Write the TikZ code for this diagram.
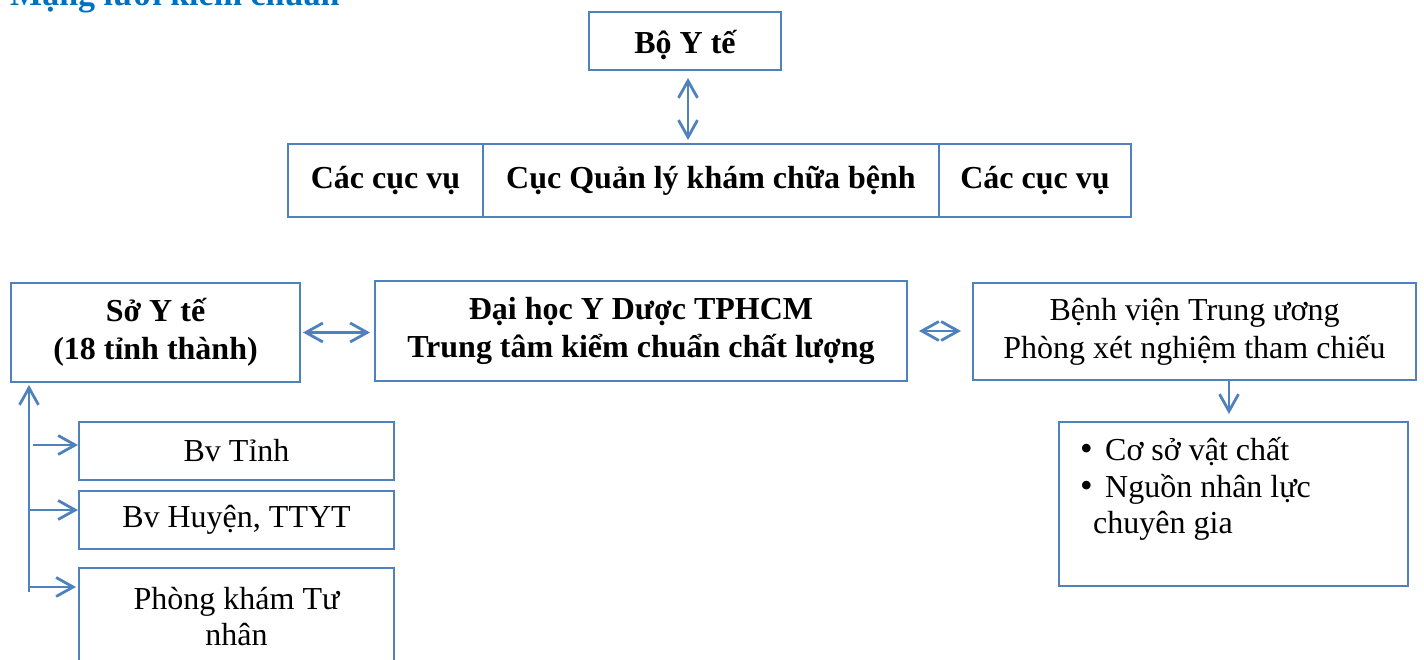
\documentclass[tikz,border=0pt]{standalone}
\usepackage{fontspec}
\setmainfont{Liberation Serif}
\usetikzlibrary{arrows.meta}
\definecolor{lineblue}{RGB}{79,129,189}
\definecolor{titleblue}{RGB}{0,112,192}
\tikzset{
  box/.style={draw=lineblue, line width=2.8pt, rectangle, inner sep=0pt, outer sep=0pt, align=center, font=\fontsize{32}{38}\selectfont},
  bbox/.style={box, font=\fontsize{32}{38}\selectfont\bfseries},
  conn/.style={draw=lineblue, line width=2.8pt},
  dbl/.style={conn, {Straight Barb[length=17pt,width=19pt]}-{Straight Barb[length=17pt,width=19pt]}},
  sgl/.style={conn, -{Straight Barb[length=17pt,width=19pt]}},
  txt/.style={inner sep=0pt, font=\fontsize{32}{37}\selectfont},
}
\newcommand{\mybul}{\makebox[25pt][l]{\fontsize{36}{37}\selectfont\textbullet}}
\begin{document}
\begin{tikzpicture}[x=1pt,y=-1pt]
\useasboundingbox (0,0) rectangle (1424,659);
\clip (0,0) rectangle (1424,659);
% title
\node[anchor=base west, inner sep=0pt, text=titleblue, font=\fontsize{34}{40}\selectfont\bfseries] (title) at (10,5) {Mạng lưới kiểm chuẩn};
% top
\node[bbox, minimum width=192pt, minimum height=58pt, text height=28pt, text depth=3pt] (boyte) at (685,41) {Bộ Y tế};
\node[bbox, minimum width=195pt, minimum height=73pt] (cuc1) at (385.5,180.5) {Các cục vụ};
\node[bbox, minimum width=456pt, minimum height=73pt] (cucql) at (711,180.5) {Cục Quản lý khám chữa bệnh};
\node[bbox, minimum width=192pt, minimum height=73pt] (cuc2) at (1035,180.5) {Các cục vụ};
% middle row
\node[bbox, minimum width=289pt, minimum height=99pt] (soyte) at (155.5,332.5) {Sở Y tế\\(18 tỉnh thành)};
\node[bbox, minimum width=532pt, minimum height=100pt] (daihoc) at (641,331) {Đại học Y Dược TPHCM\\Trung tâm kiểm chuẩn chất lượng};
\node[box, minimum width=443pt, minimum height=97pt] (bvtw) at (1194.5,331.5) {Bệnh viện Trung ương\\Phòng xét nghiệm tham chiếu};
% right bullet box
\node[box, minimum width=349pt, minimum height=164pt] (bullet) at (1233.5,504) {};
\node[txt, anchor=base west] (b1) at (1080,460) {\mybul Cơ sở vật chất};
\node[txt, anchor=base west] (b2) at (1080,497) {\mybul Nguồn nhân lực};
\node[txt, anchor=base west] (b3) at (1093,533) {chuyên gia};
% left column
\node[box, minimum width=315pt, minimum height=58pt] (bvtinh) at (236.5,451) {Bv Tỉnh};
\node[box, minimum width=315pt, minimum height=58pt] (bvhuyen) at (236.5,520) {Bv Huyện, TTYT};
\node[box, minimum width=315pt, minimum height=120pt] (pk) at (236.5,628) {};
\node[txt, align=center, font=\fontsize{32}{36}\selectfont] (pktext) at (236.5,617) {Phòng khám Tư\\nhân};
% connectors
\draw[dbl, shorten <=8pt, shorten >=4pt] ([xshift=3pt]boyte.south) -- ([xshift=3pt]boyte.south |- cucql.north);
\draw[dbl, shorten <=3pt, shorten >=5pt] (soyte.east) -- (soyte.east -| daihoc.west);
\draw[dbl, shorten <=12pt, shorten >=12pt] (daihoc.east) -- (daihoc.east -| bvtw.west);
\draw[sgl, shorten >=8pt] ([xshift=34.5pt]bvtw.south) -- ([xshift=34.5pt]bvtw.south |- bullet.north);
\coordinate (trunk) at (29,592);
\draw[sgl, shorten >=3pt] (trunk) -- (trunk |- soyte.south);
\coordinate (a1) at (33,445);
\coordinate (a2) at (29,510);
\coordinate (a3) at (29,587);
\draw[sgl, shorten >=1pt] (a1) -- (a1 -| bvtinh.west);
\draw[sgl, shorten >=1pt] (a2) -- (a2 -| bvhuyen.west);
\draw[sgl, shorten >=3pt] (a3) -- (a3 -| pk.west);
\end{tikzpicture}
\end{document}
